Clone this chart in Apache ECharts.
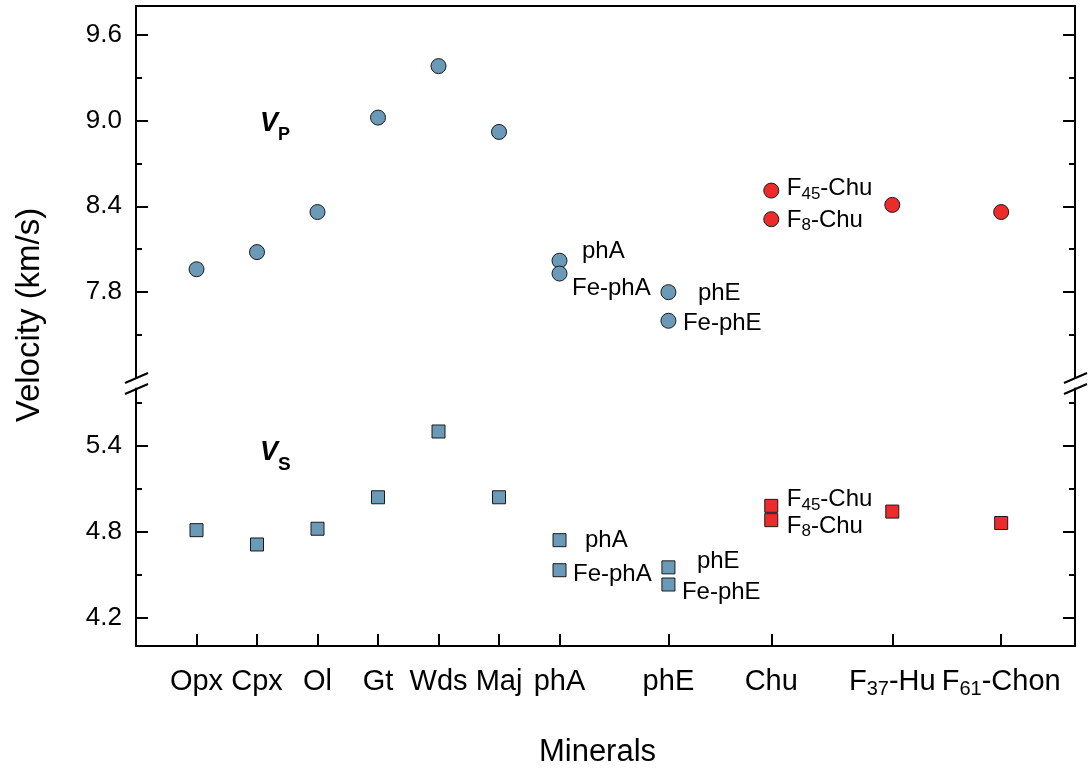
<!DOCTYPE html>
<html>
<head>
<meta charset="utf-8">
<title>Velocity of minerals</title>
<script src="https://cdn.jsdelivr.net/npm/echarts@6/dist/echarts.min.js"></script>
<style>
  html, body { margin: 0; padding: 0; background: #fff; }
  #chart { width: 1089px; height: 769px; }
</style>
</head>
<body>
<div id="chart"></div>
<script>
// 横轴：矿物及其位置
const minerals = ['Opx', 'Cpx', 'Ol', 'Gt', 'Wds', 'Maj', 'phA', 'phE', 'Chu', 'F37-Hu', 'F61-Chon']
const mineralPos = [1, 2, 3, 4, 5, 6, 7, 8.8, 10.5, 12.5, 14.3]

// 蓝色样品
const blueSamples = ['Opx', 'Cpx', 'Ol', 'Gt', 'Wds', 'Maj', 'phA', 'Fe-phA', 'phE', 'Fe-phE']
const blueMineral = ['Opx', 'Cpx', 'Ol', 'Gt', 'Wds', 'Maj', 'phA', 'phA', 'phE', 'phE']
const blueVp = [7.96, 8.08, 8.36, 9.02, 9.38, 8.92, 8.02, 7.93, 7.80, 7.60]
const blueVs = [4.81, 4.71, 4.82, 5.04, 5.50, 5.04, 4.74, 4.53, 4.55, 4.43]

// 红色样品
const redSamples = ['F45-Chu', 'F8-Chu', 'F37-Hu', 'F61-Chon']
const redMineral = ['Chu', 'Chu', 'F37-Hu', 'F61-Chon']
const redVp = [8.51, 8.31, 8.41, 8.36]
const redVs = [4.98, 4.88, 4.94, 4.86]

// 纵轴刻度
const vpTicks = [7.8, 8.4, 9.0, 9.6]
const vpMinor = [7.5, 8.1, 8.7, 9.3]
const vsTicks = [4.2, 4.8, 5.4]
const vsMinor = [4.5, 5.1, 5.7]

// 需要标注的点：文字相对点中心的偏移
const vpLabelOffset = {
    'phA': [22, -9], 'Fe-phA': [12, 15], 'phE': [29, 1], 'Fe-phE': [14, 3],
    'F45-Chu': [15, -2], 'F8-Chu': [15, 1]
}
const vsLabelOffset = {
    'phA': [25, 0], 'Fe-phA': [13, 4], 'phE': [28, -6], 'Fe-phE': [13, 8],
    'F45-Chu': [15, -6], 'F8-Chu': [15, 6]
}

const FONT = 'Arial, "Liberation Sans", Helvetica, sans-serif'
const BLUE = '#6b9ab8'
const RED = '#ee2b2b'
const EDGE = '#1a1a1a'

// 布局
const W = 1089, H = 769
const GL = 136, GR = 14
const upTop = 6, upH = 372
const lowTop = 388.6, lowBottom = 123
const xMax = 15.52

// F45-Chu -> F{下标45}-Chu
const toRich = (name) => {
    const m = /^F(\d+)(-.*)$/.exec(name)
    return m ? `{t|F}{s|${m[1]}}{t|${m[2]}}` : `{t|${name}}`
}

const xOf = (name) => mineralPos[minerals.indexOf(name)]

const makeData = (names, mins, vals, offsets, r) => names.map((n, i) => {
    const d = { name: n, value: [xOf(mins[i]), vals[i]] }
    if (offsets[n]) {
        d.label = {
            show: true,
            position: 'right',
            distance: 0,
            offset: [offsets[n][0] - r, offsets[n][1]]
        }
    }
    return d
})

const pointLabel = {
    show: false,
    formatter: (p) => toRich(p.name),
    rich: {
        t: { fontSize: 24, lineHeight: 28, color: '#000', fontFamily: FONT },
        s: { fontSize: 17, lineHeight: 16, color: '#000', fontFamily: FONT, verticalAlign: 'bottom' }
    }
}

const yBase = (grid, min, max, pos) => ({
    type: 'value', gridIndex: grid, min: min, max: max, position: pos,
    splitLine: { show: false }
})

const majorAxis = (grid, min, max, pos, ticks, withLabel) => Object.assign(yBase(grid, min, max, pos), {
    axisLine: { show: true, lineStyle: { color: '#000', width: 2 } },
    axisTick: { show: true, inside: true, length: 12, customValues: ticks, lineStyle: { color: '#000', width: 2 } },
    axisLabel: {
        show: withLabel, customValues: ticks, margin: 14,
        fontSize: 26, color: '#000', fontFamily: FONT,
        formatter: (v) => v.toFixed(1)
    }
})

const minorAxis = (grid, min, max, pos, ticks) => Object.assign(yBase(grid, min, max, pos), {
    axisLine: { show: false },
    axisTick: { show: true, inside: true, length: 6, customValues: ticks, lineStyle: { color: '#000', width: 2 } },
    axisLabel: { show: false }
})

const chart = echarts.init(document.getElementById('chart'))

const option = {
    backgroundColor: '#fff',
    animation: false,
    textStyle: { fontFamily: FONT },
    grid: [
        { left: GL, right: GR, top: upTop, height: upH, outerBoundsMode: 'none' },
        { left: GL, right: GR, top: lowTop, bottom: lowBottom, outerBoundsMode: 'none' }
    ],
    xAxis: [
        {
            type: 'value', gridIndex: 0, min: 0, max: xMax, position: 'top',
            axisLine: { show: true, lineStyle: { color: '#000', width: 2 } },
            axisTick: { show: false }, axisLabel: { show: false }, splitLine: { show: false }
        },
        {
            type: 'value', gridIndex: 1, min: 0, max: xMax, position: 'bottom',
            name: 'Minerals', nameLocation: 'middle', nameGap: 91,
            nameTextStyle: { fontSize: 31, color: '#000', fontFamily: FONT, padding: [0, 16, 0, 0] },
            axisLine: { show: true, lineStyle: { color: '#000', width: 2 } },
            axisTick: { show: true, inside: true, length: 12, customValues: mineralPos, lineStyle: { color: '#000', width: 2 } },
            axisLabel: {
                show: true, customValues: mineralPos, margin: 19,
                formatter: (v) => {
                    const i = mineralPos.findIndex((p) => Math.abs(p - v) < 1e-6)
                    return i < 0 ? '' : toRich(minerals[i])
                },
                rich: {
                    t: { fontSize: 29, lineHeight: 34, color: '#000', fontFamily: FONT },
                    s: { fontSize: 20, lineHeight: 19, color: '#000', fontFamily: FONT, verticalAlign: 'bottom' }
                }
            },
            splitLine: { show: false }
        }
    ],
    yAxis: [
        majorAxis(0, 7.2, 9.8, 'left', vpTicks, true),
        minorAxis(0, 7.2, 9.8, 'left', vpMinor),
        majorAxis(0, 7.2, 9.8, 'right', vpTicks, false),
        minorAxis(0, 7.2, 9.8, 'right', vpMinor),
        majorAxis(1, 4.0, 5.8, 'left', vsTicks, true),
        minorAxis(1, 4.0, 5.8, 'left', vsMinor),
        majorAxis(1, 4.0, 5.8, 'right', vsTicks, false),
        minorAxis(1, 4.0, 5.8, 'right', vsMinor)
    ],
    series: [
        {
            name: 'Vp', type: 'scatter', xAxisIndex: 0, yAxisIndex: 0,
            symbol: 'circle', symbolSize: 15,
            itemStyle: { color: BLUE, borderColor: EDGE, borderWidth: 1, opacity: 1 },
            label: pointLabel,
            data: makeData(blueSamples, blueMineral, blueVp, vpLabelOffset, 7.5)
        },
        {
            name: 'Vp F', type: 'scatter', xAxisIndex: 0, yAxisIndex: 0,
            symbol: 'circle', symbolSize: 15,
            itemStyle: { color: RED, borderColor: EDGE, borderWidth: 1, opacity: 1 },
            label: pointLabel,
            data: makeData(redSamples, redMineral, redVp, vpLabelOffset, 7.5)
        },
        {
            name: 'Vs', type: 'scatter', xAxisIndex: 1, yAxisIndex: 4,
            symbol: 'rect', symbolSize: 13,
            itemStyle: { color: BLUE, borderColor: EDGE, borderWidth: 1, opacity: 1 },
            label: pointLabel,
            data: makeData(blueSamples, blueMineral, blueVs, vsLabelOffset, 6.5)
        },
        {
            name: 'Vs F', type: 'scatter', xAxisIndex: 1, yAxisIndex: 4,
            symbol: 'rect', symbolSize: 13,
            itemStyle: { color: RED, borderColor: EDGE, borderWidth: 1, opacity: 1 },
            label: pointLabel,
            data: makeData(redSamples, redMineral, redVs, vsLabelOffset, 6.5)
        }
    ],
    graphic: []
}

// 断轴标记
const breakY = 383
const breakMarks = []
;[GL, W - GR].forEach((ax) => {
    ;[0, 11].forEach((dy) => {
        breakMarks.push({
            type: 'line',
            shape: { x1: ax - 11, y1: breakY + dy, x2: ax + 12, y2: breakY + dy - 10 },
            style: { stroke: '#000', lineWidth: 2 }
        })
    })
})

option.graphic = breakMarks.concat([
    {
        type: 'text', x: 30, y: 315, rotation: Math.PI / 2,
        style: {
            text: 'Velocity (km/s)', fontSize: 33, fontFamily: FONT, fill: '#000',
            align: 'center', verticalAlign: 'middle'
        }
    },
    {
        type: 'text', x: 260, y: 124,
        style: {
            text: '{v|V}{p|P}', align: 'left', verticalAlign: 'middle',
            rich: {
                v: { fontSize: 27, fontStyle: 'italic', fontWeight: 'bold', fontFamily: FONT, fill: '#000' },
                p: { fontSize: 18, fontWeight: 'bold', fontFamily: FONT, fill: '#000', padding: [22, 0, 0, 0] }
            }
        }
    },
    {
        type: 'text', x: 260, y: 453,
        style: {
            text: '{v|V}{p|S}', align: 'left', verticalAlign: 'middle',
            rich: {
                v: { fontSize: 27, fontStyle: 'italic', fontWeight: 'bold', fontFamily: FONT, fill: '#000' },
                p: { fontSize: 19, fontWeight: 'bold', fontFamily: FONT, fill: '#000', padding: [24, 0, 0, 0] }
            }
        }
    }
])

chart.setOption(option)
</script>
</body>
</html>
